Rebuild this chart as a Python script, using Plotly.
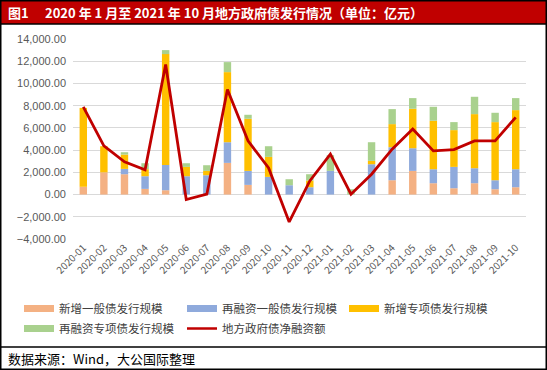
import plotly.graph_objects as go

months = ["2020-01","2020-02","2020-03","2020-04","2020-05","2020-06","2020-07","2020-08","2020-09","2020-10","2020-11","2020-12",
          "2021-01","2021-02","2021-03","2021-04","2021-05","2021-06","2021-07","2021-08","2021-09","2021-10"]
new_general = [700, 2000, 1830, 510, 390, 0, 0, 2850, 870, 0, 0, 0,
               0, 0, 0, 1290, 2130, 1020, 570, 1020, 480, 660]
refi_general = [0, 0, 480, 1140, 2280, 1650, 1740, 1860, 1260, 1590, 840, 660,
                2130, 0, 2730, 2970, 2040, 1260, 1920, 1350, 810, 1620]
new_special = [7100, 2350, 1290, 630, 9970, 840, 390, 6310, 4690, 1800, 0, 600,
               0, 0, 300, 2080, 3550, 4360, 3310, 4870, 5230, 5320]
refi_special = [0, 0, 210, 540, 360, 330, 510, 900, 360, 960, 540, 570,
                1410, 480, 1680, 1350, 960, 1260, 720, 1560, 840, 1080]
net_financing = [7900, 4380, 2940, 2220, 11710, -450, 30, 9460, 4830, 2400, -2460, 1230,
                 3630, 30, 1830, 4080, 5890, 3930, 4050, 4830, 4830, 6940]

names = ["新增一般债发行规模", "再融资一般债发行规模", "新增专项债发行规模", "再融资专项债发行规模", "地方政府债净融资额"]
colors = ["#F4B183", "#8FAADC", "#FFC000", "#A9D18E", "#C00000"]
series = [new_general, refi_general, new_special, refi_special]

W, H = 547, 370
L, R, T, B = 73, 21, 39, 131
PW, PH = W - L - R, H - T - B

def xp(px):
    return (px - L) / PW

def yp(py):
    return (H - B - py) / PH

legend_ids = ["legend", "legend2", "legend3", "legend4", "legend5"]
legend_pos = [(19, 294), (182, 294), (344, 294), (19, 314), (182, 314)]

fig = go.Figure()
for name, vals, col in zip(names[:4], series, colors[:4]):
    fig.add_trace(go.Bar(x=months, y=vals, name=name, marker=dict(color=col, line=dict(width=0)),
                         showlegend=False))
fig.add_trace(go.Scatter(x=months, y=net_financing, name=names[4], mode="lines",
                         line=dict(color=colors[4], width=2.8), showlegend=False))

# legend proxies (wide swatches like the reference), one legend box per entry
for i, (name, col) in enumerate(zip(names, colors)):
    fig.add_trace(go.Scatter(x=[None], y=[None], mode="lines", name=name, legend=legend_ids[i],
                             line=dict(color=col, width=7 if i < 4 else 2.5)))

font_cjk = "Noto Sans CJK SC"
shapes = [
    dict(type="rect", xref="paper", yref="paper", x0=xp(0), x1=xp(W), y0=yp(0), y1=yp(24),
         fillcolor="#C00000", line=dict(width=0), layer="below"),
    dict(type="line", xref="paper", yref="paper", x0=xp(0), x1=xp(W), y0=yp(24), y1=yp(24),
         line=dict(color="#000000", width=1.5)),
    dict(type="line", xref="paper", yref="paper", x0=xp(0), x1=xp(W), y0=yp(347), y1=yp(347),
         line=dict(color="#000000", width=1.5)),
    dict(type="rect", xref="paper", yref="paper", x0=xp(0.75), x1=xp(W - 0.75), y0=yp(0.75), y1=yp(H - 0.75),
         line=dict(color="#000000", width=1.5), fillcolor="rgba(0,0,0,0)"),
]

annotations = [
    dict(text="<b>图1</b>", xref="paper", yref="paper", x=xp(6), y=yp(12), xanchor="left", yanchor="middle",
         showarrow=False, font=dict(family=font_cjk, size=13, color="#FFFFFF")),
    dict(text="<b>2020 年 1 月至 2021 年 10 月地方政府债发行情况（单位：亿元）</b>", xref="paper", yref="paper",
         x=xp(43), y=yp(12), xanchor="left", yanchor="middle",
         showarrow=False, font=dict(family=font_cjk, size=13, color="#FFFFFF")),
    dict(text="数据来源：Wind，大公国际整理", xref="paper", yref="paper", x=xp(6), y=yp(358),
         xanchor="left", yanchor="middle", showarrow=False,
         font=dict(family=font_cjk, size=13, color="#000000")),
]

legend_common = dict(orientation="h", xref="container", yref="container", xanchor="left", yanchor="top",
                     itemwidth=30, font=dict(family=font_cjk, size=11.5, color="#404040"),
                     bgcolor="rgba(0,0,0,0)", tracegroupgap=0)
legends = {}
for lid, (lx, ly) in zip(legend_ids, legend_pos):
    legends[lid] = dict(legend_common, x=lx / W, y=1 - ly / H)

fig.update_layout(
    width=W, height=H,
    margin=dict(l=L, r=R, t=T, b=B, pad=0, autoexpand=False),
    paper_bgcolor="#FFFFFF", plot_bgcolor="#FFFFFF",
    barmode="relative", bargap=0.64,
    shapes=shapes, annotations=annotations,
    font=dict(family=font_cjk, color="#595959"),
    xaxis=dict(type="category", tickangle=-45, showgrid=False, ticks="", showline=False, automargin=False,
               tickfont=dict(family=font_cjk, size=10, color="#595959")),
    yaxis=dict(range=[-4000, 14000], dtick=2000, tickformat=",.2f", showgrid=True, automargin=False,
               gridcolor="#D9D9D9", gridwidth=1, zeroline=True, zerolinecolor="#D9D9D9",
               zerolinewidth=1, ticks="", showline=False, ticklabelstandoff=6,
               tickfont=dict(family="Liberation Sans", size=11, color="#595959")),
    **legends,
)

fig.write_html("out.html", config={"displayModeBar": False},
               post_script="document.body.style.margin='0';")
